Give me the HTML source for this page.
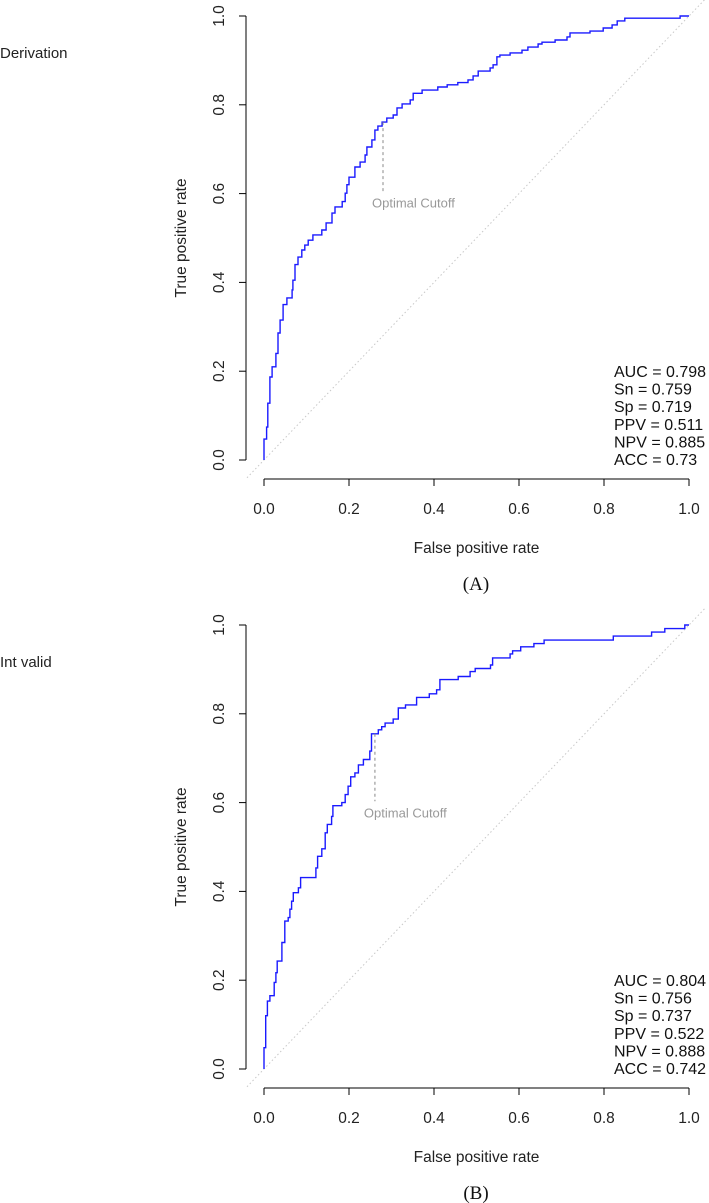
<!DOCTYPE html>
<html><head><meta charset="utf-8"><style>
html,body{margin:0;padding:0;background:#fff;}
svg{display:block;font-family:"Liberation Sans",sans-serif;}
</style></head><body>
<svg id="fig" width="709" height="1203" viewBox="0 0 709 1203" xmlns="http://www.w3.org/2000/svg"></svg>
<script>
// Panel A data (Derivation) - step vertices: fpr, tpr
const fprA=[0,.006,.009,.014,.019,.028,.033,.038,.045,.054,.066,.068,.073,.08,.089,.096,.104,.115,.136,.146,.16,.167,.184,.191,.195,.2,.214,.226,.238,.242,.254,.261,.268,.278,.289,.304,.313,.325,.344,.351,.372,.409,.431,.456,.48,.492,.504,.532,.539,.548,.555,.579,.607,.621,.645,.654,.685,.713,.72,.767,.798,.819,.831,.849,.979,1];
const tprA=[.047,.074,.128,.187,.21,.24,.286,.315,.35,.365,.383,.405,.44,.457,.473,.484,.495,.507,.518,.534,.556,.57,.582,.601,.62,.637,.66,.671,.687,.705,.721,.743,.752,.761,.77,.777,.793,.802,.811,.826,.833,.84,.845,.85,.856,.865,.876,.883,.89,.908,.912,.917,.923,.93,.937,.941,.946,.953,.962,.966,.973,.98,.989,.995,1,1];
const statsA=["AUC = 0.798","Sn = 0.759","Sp = 0.719","PPV = 0.511","NPV = 0.885","ACC = 0.73"];
const cutoffA=[.28,.761,.605];
// Panel B data (Int valid)
const fprB=[0,.004,.008,.014,.024,.028,.031,.042,.049,.057,.061,.065,.069,.081,.086,.122,.126,.136,.144,.149,.159,.162,.183,.191,.198,.204,.214,.222,.234,.249,.253,.269,.277,.285,.304,.316,.333,.359,.389,.406,.414,.457,.485,.497,.533,.538,.579,.585,.604,.635,.659,.822,.912,.943,.99,1];
const tprB=[.048,.12,.153,.165,.195,.217,.243,.285,.333,.341,.36,.378,.397,.408,.431,.453,.479,.496,.532,.551,.569,.593,.6,.618,.637,.658,.667,.685,.697,.716,.755,.764,.771,.779,.788,.813,.82,.837,.845,.854,.877,.884,.895,.902,.91,.926,.935,.942,.951,.958,.966,.975,.984,.992,1,1];
const statsB=["AUC = 0.804","Sn = 0.756","Sp = 0.737","PPV = 0.522","NPV = 0.888","ACC = 0.742"];
const cutoffB=[.261,.755,.603];
const ticks=[0,0.2,0.4,0.6,0.8,1.0];
const tickLabels=["0.0","0.2","0.4","0.6","0.8","1.0"];

const NS="http://www.w3.org/2000/svg";
const svg=document.getElementById('fig');
function mk(tag,attrs,parent,text){const e=document.createElementNS(NS,tag);for(const k in attrs)e.setAttribute(k,attrs[k]);if(text!==undefined)e.textContent=text;(parent||svg).appendChild(e);return e;}

function panel(id,top,title,letter,fpr,tpr,stats,cut){
  const x0=264,x1=689,y0=top+444,y1=top;
  const sx=v=>x0+v*(x1-x0), sy=v=>y0-v*(y0-y1);
  const g=mk('g',{});
  
  
  const t=mk('text',{x:0,y:top+42,'font-size':15,fill:'#222'},g,title);
  
  
  const d=mk('line',{x1:sx(-0.04),y1:sy(-0.04),x2:sx(1.04),y2:sy(1.04),stroke:'#c8c8c8','stroke-width':1,'stroke-dasharray':'1.5,2.5'},g);
  
  
  const ya=mk('g',{},g);
  
  
  mk('line',{x1:246,y1:sy(0),x2:246,y2:sy(1),stroke:'#000','stroke-width':1},ya);
  ticks.forEach((v,i)=>{
    mk('line',{x1:239,y1:sy(v),x2:246,y2:sy(v),stroke:'#000'},ya);
    const l=mk('text',{x:0,y:0,'font-size':15.5,'text-anchor':'middle',fill:'#222',transform:`translate(224,${sy(v)}) rotate(-90)`},ya,tickLabels[i]);
    
    
  });
  const yt=mk('text',{x:0,y:0,'font-size':15.5,'text-anchor':'middle',fill:'#222',transform:`translate(186,${sy(0.5)}) rotate(-90)`},g,'True positive rate');
  
  
  const xa=mk('g',{},g);
  
  
  const ax=y0+19;
  mk('line',{x1:sx(0),y1:ax,x2:sx(1),y2:ax,stroke:'#000'},xa);
  ticks.forEach((v,i)=>{
    mk('line',{x1:sx(v),y1:ax,x2:sx(v),y2:ax+7,stroke:'#000'},xa);
    const l=mk('text',{x:sx(v),y:ax+35,'font-size':15.5,'text-anchor':'middle',fill:'#222'},xa,tickLabels[i]);
    
    
  });
  const xt=mk('text',{x:sx(0.5),y:ax+74,'font-size':15.5,'text-anchor':'middle',fill:'#222'},g,'False positive rate');
  
  
  const lt=mk('text',{x:476,y:ax+111,'font-size':19,'text-anchor':'middle',fill:'#111','font-family':'Liberation Serif, serif'},g,letter);
  
  
  let p=`M${sx(0)},${sy(0)}`;let cy=0;
  for(let i=0;i<fpr.length;i++){p+=` L${sx(fpr[i]).toFixed(1)},${sy(cy).toFixed(1)} L${sx(fpr[i]).toFixed(1)},${sy(tpr[i]).toFixed(1)}`;cy=tpr[i];}
  const c=mk('path',{d:p,fill:'none',stroke:'#1a1aff','stroke-width':1.4},g);
  
  
  const cl=mk('line',{x1:sx(cut[0]),y1:sy(cut[1]),x2:sx(cut[0]),y2:sy(cut[2]),stroke:'#888','stroke-dasharray':'3,3'},g);
  
  
  const ct=mk('text',{x:sx(cut[0])-11,y:sy(cut[2])+16,'font-size':13,fill:'#999'},g,'Optimal Cutoff');
  
  
  stats.forEach((s,i)=>{
    const st=mk('text',{x:614,y:top+361+i*17.6,'font-size':16,fill:'#111'},g,s);
    
    
  });
}
panel('a',16,'Derivation','(A)',fprA,tprA,statsA,cutoffA);
panel('b',625,'Int valid','(B)',fprB,tprB,statsB,cutoffB);
</script>
</body></html>
